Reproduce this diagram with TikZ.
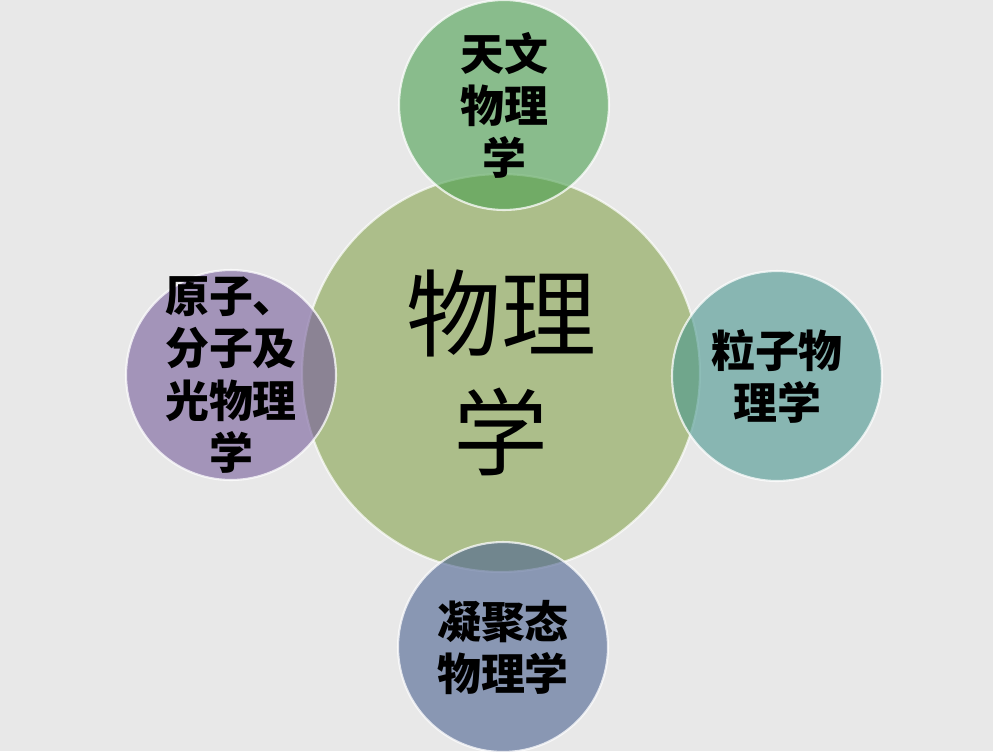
\documentclass[tikz,border=0pt]{standalone}
\usepackage{fontspec}
\newfontfamily\cjk{Noto Sans CJK SC}
\definecolor{bgGray}{RGB}{232,232,232}
\definecolor{coreGreen}{RGB}{172,190,138}
\definecolor{astroGreen}{RGB}{75,159,79}
\definecolor{amoPurple}{RGB}{117,92,155}
\definecolor{particleTeal}{RGB}{72,150,142}
\definecolor{condBlue}{RGB}{75,97,145}
\tikzset{
  core/.style={
    circle,
    fill=coreGreen,
    draw=white,
    draw opacity=0.7,
    line width=1.2pt,
    minimum size=7.96cm,
    inner sep=0pt,
    align=center,
    font=\cjk\fontsize{54}{68}\selectfont
  },
  branch/.style={
    circle,
    fill opacity=0.6,
    text opacity=1,
    draw=white,
    draw opacity=0.75,
    line width=1.2pt,
    minimum size=4.2cm,
    inner sep=0pt,
    align=center,
    font=\cjk\bfseries\fontsize{25}{29.6}\selectfont
  }
}

\begin{document}
\begin{tikzpicture}[x=0.02cm, y=-0.02cm]
  % Background
  \useasboundingbox (0,0) rectangle (993,751);
  \fill[bgGray] (0,0) rectangle (993,751);

  % Central circle
  \node[core] (physics) at (501,373) {物理\\学};

  % Branch circles
  \node[branch, fill=astroGreen, inner sep=-0.2cm] (astro) at (504,105) {天文\\物理\\学};
  \node[branch, fill=amoPurple, inner sep=-0.4cm] (amo) at (231,375) {原子、\\分子及\\光物理\\学};
  \node[branch, fill=particleTeal] (particle) at (777,376) {粒子物\\理学};
  \node[branch, fill=condBlue] (condensed) at (503,647) {凝聚态\\物理学};
\end{tikzpicture}
\end{document}
